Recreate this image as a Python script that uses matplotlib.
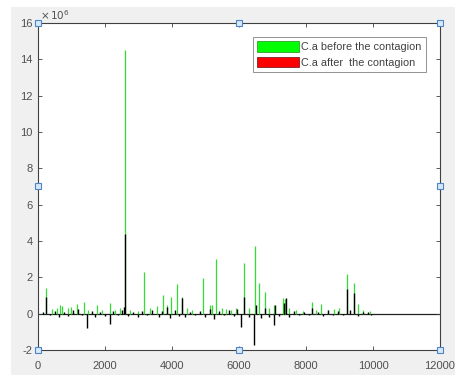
import matplotlib
matplotlib.use("Agg")
import matplotlib.pyplot as plt
import numpy as np
from matplotlib.patches import Patch, Rectangle

# sample index / amplitude (x 1e6)
before_x = [238, 420, 560, 665, 720, 900, 1000, 1160, 1360, 1500, 1760, 1900, 2155, 2300, 2450,
            2600, 2750, 3000, 3170, 3350, 3560, 3745, 3850, 3960, 4140, 4310, 4450, 4600, 4915,
            5130, 5200, 5310, 5480, 5600, 5750, 5900, 6155, 6300, 6480, 6595, 6770, 6900, 7040,
            7320, 7380, 7500, 7700, 7900, 8180, 8300, 8460, 8650, 8830, 9000, 9235, 9435, 9550,
            9700, 9900]
before_y = [1.44, 0.25, 0.3, 0.5, 0.4, 0.3, 0.35, 0.55, 0.65, 0.2, 0.45, 0.2, 0.6, 0.2, 0.3,
            14.5, 0.2, 0.15, 2.28, 0.3, 0.4, 1.03, 0.5, 0.93, 1.64, 0.93, 0.3, 0.2, 1.96,
            0.45, 0.5, 3.03, 0.3, 0.25, 0.2, 0.3, 2.8, 0.3, 3.7, 1.68, 1.2, 0.3, 0.5,
            0.85, 0.8, 0.3, 0.2, 0.15, 0.65, 0.2, 0.55, 0.2, 0.25, 0.3, 2.19, 1.68, 0.55,
            0.2, 0.15]

after_x = [150, 238, 350, 500, 640, 780, 900, 1050, 1200, 1300, 1460, 1600, 1700, 1850, 2000,
           2155, 2250, 2400, 2500, 2580, 2600, 2700, 2850, 3000, 3100, 3250, 3400, 3600, 3700,
           3850, 3950, 4080, 4200, 4310, 4400, 4550, 4700, 4850, 5000, 5130, 5250, 5400, 5550,
           5700, 5850, 5950, 6060, 6155, 6300, 6445, 6520, 6650, 6770, 6900, 7040, 7060, 7200,
           7340, 7400, 7500, 7650, 7800, 7950, 8100, 8180, 8350, 8500, 8650, 8800, 8950, 9100,
           9235, 9300, 9435, 9550, 9700, 9850, 9950]
after_y = [0.1, 0.9, -0.1, 0.15, -0.2, 0.1, -0.15, 0.2, 0.25, -0.1, -0.78, 0.15, -0.2, 0.1, -0.15,
           -0.55, 0.15, -0.1, 0.2, 0.35, 4.4, -0.15, 0.1, -0.2, 0.15, -0.1, 0.2, -0.2, 0.15,
           0.35, -0.25, 0.2, -0.15, 0.85, -0.2, 0.1, -0.1, 0.15, -0.2, 0.25, -0.3, 0.15, -0.1,
           0.2, -0.15, 0.25, -0.75, 0.93, -0.2, -1.72, 0.5, -0.25, 0.3, -0.2, -0.6, 0.45, -0.15,
           0.6, 0.85, -0.2, 0.15, -0.1, 0.1, -0.1, 0.3, 0.1, -0.15, 0.2, -0.1, 0.15, -0.1,
           1.35, 0.2, 1.12, -0.15, 0.1, 0.1, -0.05]

labels = ['C.a before the contagion', 'C.a after  the contagion']
xticks = [0, 2000, 4000, 6000, 8000, 10000, 12000]
yticks = [-2, 0, 2, 4, 6, 8, 10, 12, 14, 16]

W, H = 464, 381
plt.rcParams['font.family'] = ['Liberation Sans', 'DejaVu Sans']
fig = plt.figure(figsize=(W / 100, H / 100), dpi=100, facecolor='white')
# grey MATLAB figure window area, kept behind the axes
fig.patches.append(Rectangle((11 / W, 1 - 375 / H), 444 / W, 368 / H, transform=fig.transFigure,
                             facecolor='#f0f0f0', edgecolor='none', zorder=-10))
ax = fig.add_axes([38 / W, 1 - 350 / H, 402 / W, 327 / H])
ax.set_zorder(5)
ax.set_facecolor('white')

ax.axhline(0, color='#202020', lw=0.9, zorder=1)
ax.vlines(before_x, 0, before_y, color='#33dd33', lw=0.9, zorder=2)
ax.vlines(after_x, 0, after_y, color='black', lw=1.0, zorder=3)

ax.set_xlim(0, 12000)
ax.set_ylim(-2, 16)
ax.set_xticks(xticks)
ax.set_yticks(yticks)
ax.set_yticklabels([str(v) for v in yticks])
ax.tick_params(direction='in', length=3, width=0.6, colors='#404040', labelsize=8,
               top=True, right=True)
ax.tick_params(axis='x', pad=8)
ax.tick_params(axis='y', pad=4)
for t in ax.get_xticklabels() + ax.get_yticklabels():
    t.set_color('#505050')
for s in ax.spines.values():
    s.set_color('#404040')
    s.set_linewidth(0.8)
ax.text(0.005, 1.003, r'$\times\,10^6$', transform=ax.transAxes, fontsize=7.5,
        color='#505050', ha='left', va='bottom')

# MATLAB selection handles on the axes box
x0, x1 = ax.get_xlim()
y0, y1 = ax.get_ylim()
hx = [x0, (x0 + x1) / 2, x1, x0, x1, x0, (x0 + x1) / 2, x1]
hy = [y1, y1, y1, (y0 + y1) / 2, (y0 + y1) / 2, y0, y0, y0]
ax.plot(hx, hy, ls='none', marker='s', ms=4, mfc='#d8e8f8', mec='#4a86c8', mew=0.8,
        clip_on=False, zorder=10)

handles = [Patch(facecolor='#00ff00', edgecolor='#30a030', lw=0.6),
           Patch(facecolor='#ff0000', edgecolor='#802020', lw=0.6)]
leg = ax.legend(handles, labels, loc='upper right', bbox_to_anchor=(388 / 402, 1 - 14 / 327),
                fontsize=7.8, frameon=True, fancybox=False, handlelength=3.8,
                handleheight=1.1, handletextpad=0.25, borderpad=0.4, labelspacing=0.45,
                borderaxespad=0)
leg.get_frame().set_edgecolor('#606060')
leg.get_frame().set_linewidth(0.6)
for t in leg.get_texts():
    t.set_color('#404040')

fig.savefig('out.png', dpi=100, facecolor=fig.get_facecolor())
